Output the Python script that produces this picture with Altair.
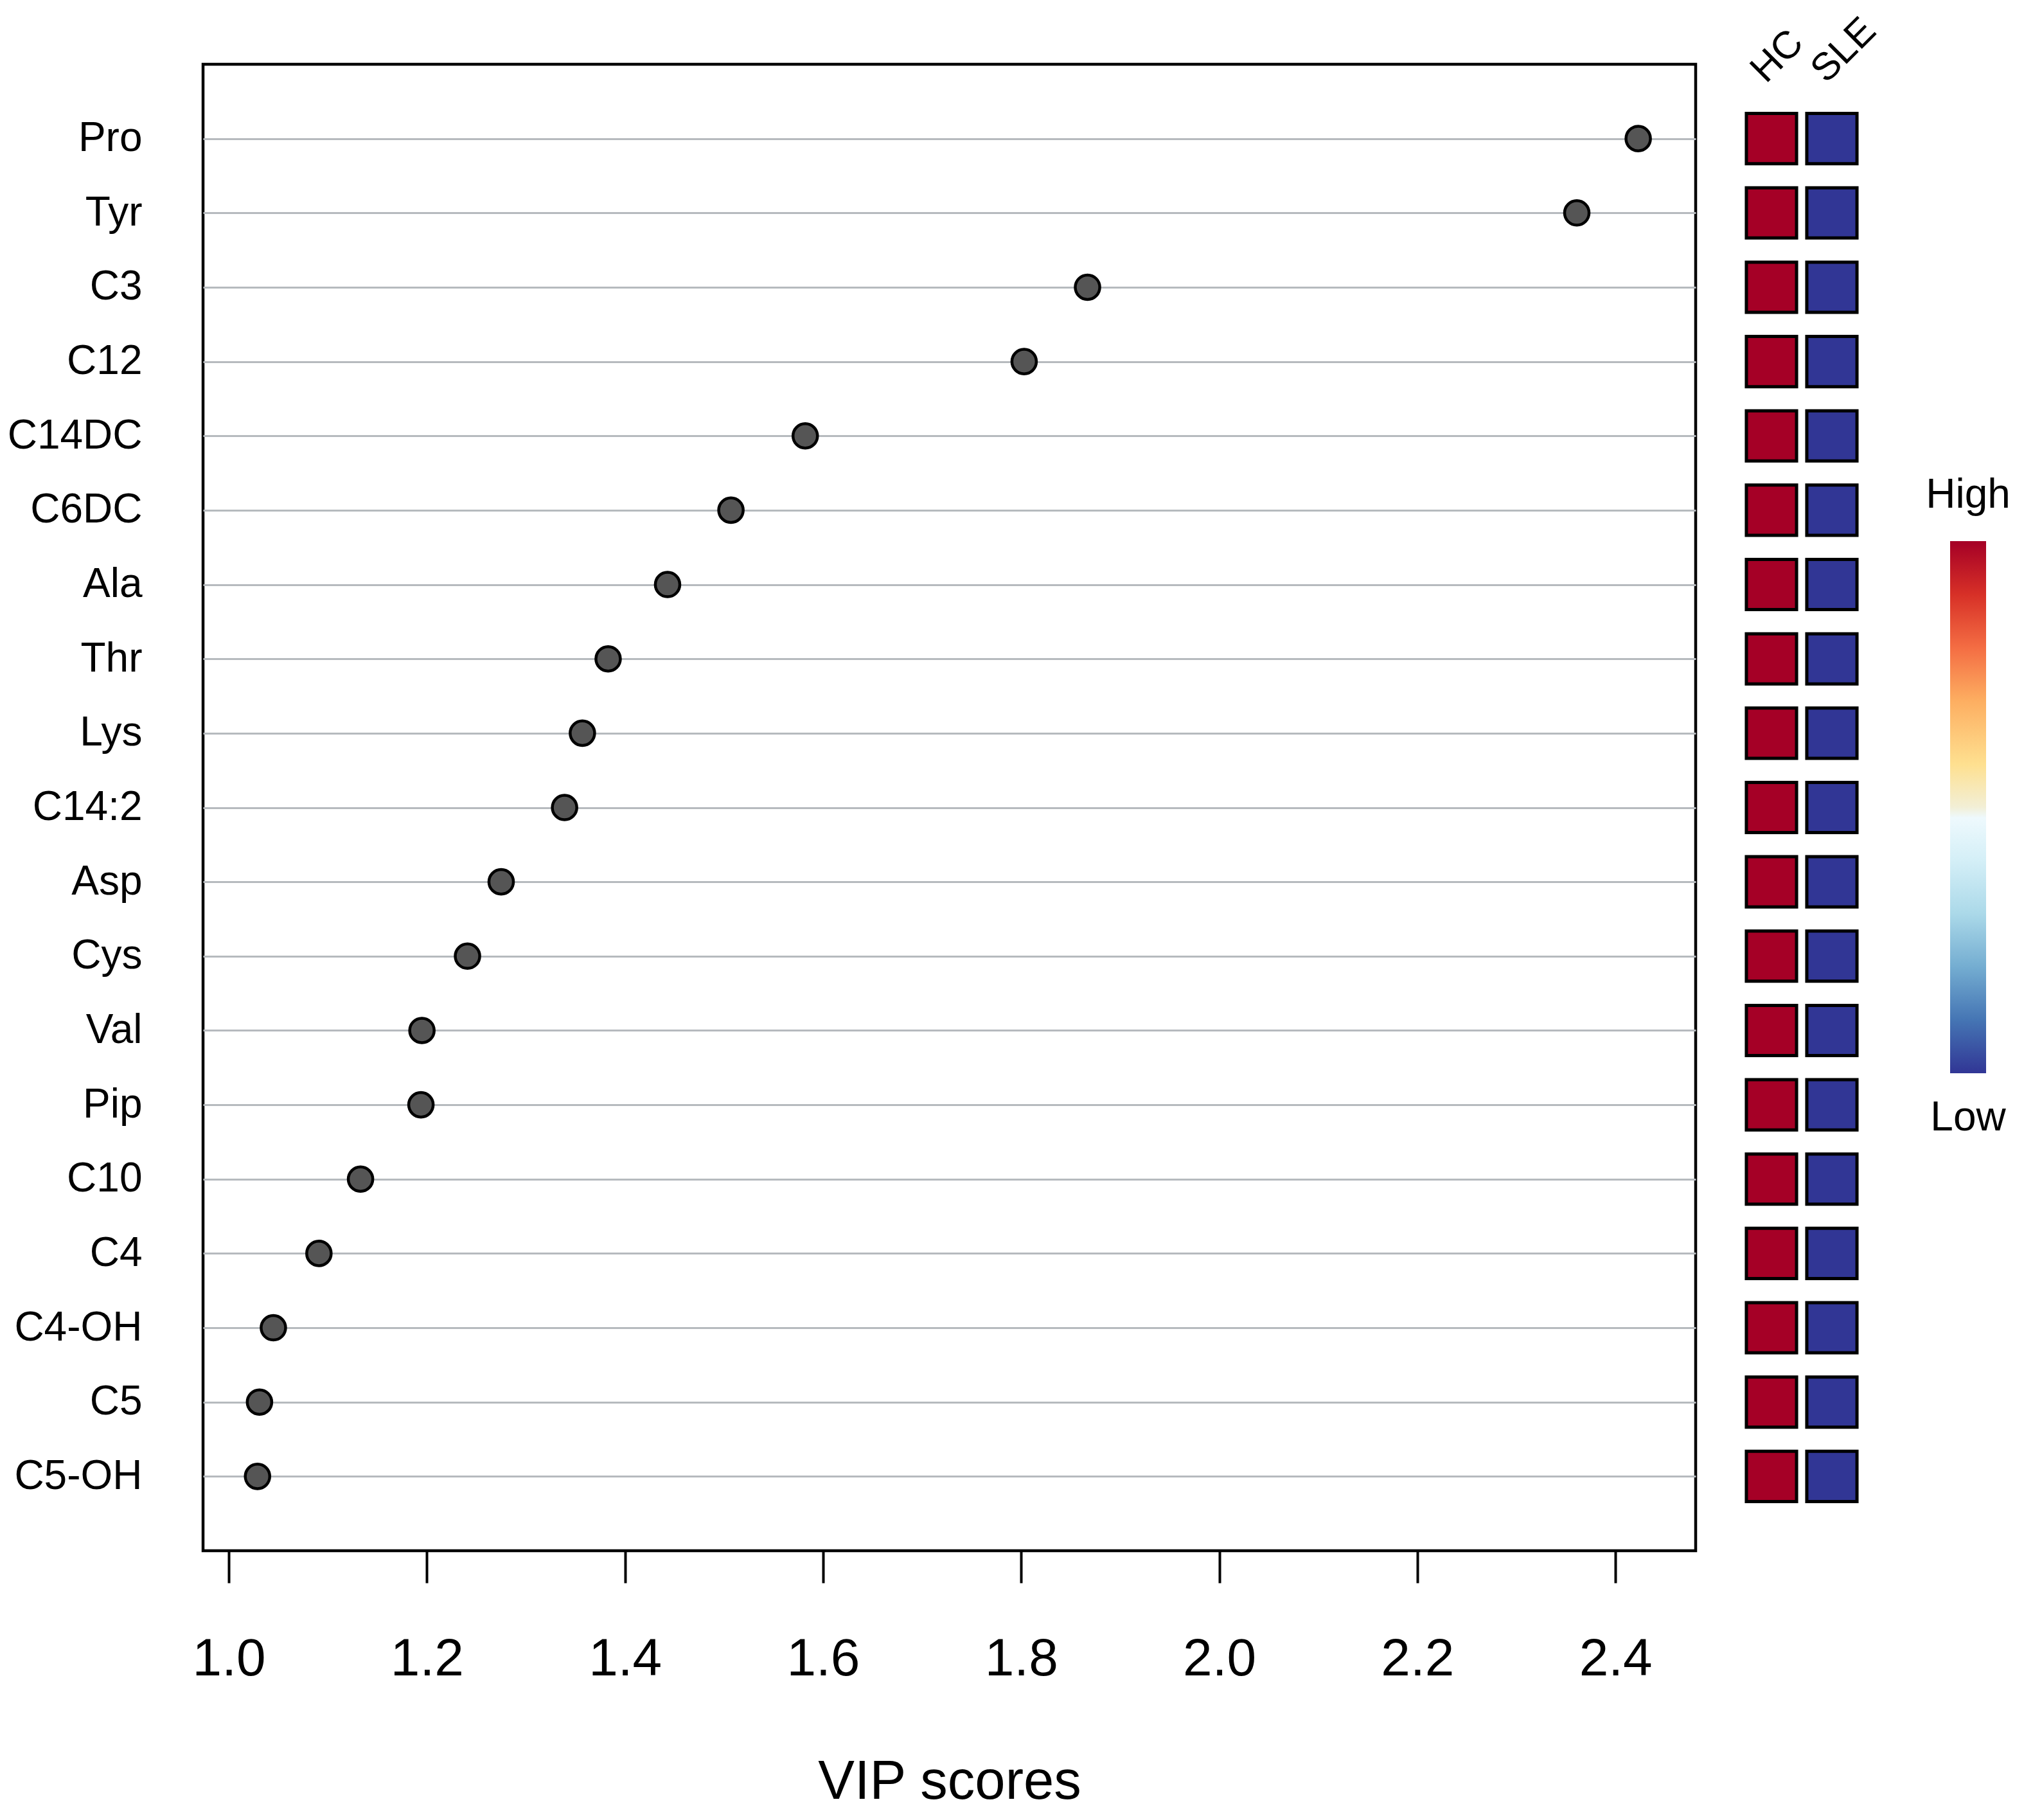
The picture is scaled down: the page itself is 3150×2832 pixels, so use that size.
import altair as alt
import pandas as pd

# ---- data ----
names = ["Pro", "Tyr", "C3", "C12", "C14DC", "C6DC", "Ala", "Thr", "Lys", "C14:2",
         "Asp", "Cys", "Val", "Pip", "C10", "C4", "C4-OH", "C5", "C5-OH"]
vip = [2.423, 2.361, 1.867, 1.803, 1.582, 1.507, 1.443, 1.383, 1.357, 1.339,
       1.275, 1.241, 1.195, 1.194, 1.133, 1.091, 1.045, 1.031, 1.029]
groups = ["HC", "SLE"]
hc_level = ["High", "High", "High", "High", "High", "High", "High", "High", "High", "High",
            "High", "High", "High", "High", "High", "High", "High", "High", "High"]
sle_level = ["Low", "Low", "Low", "Low", "Low", "Low", "Low", "Low", "Low", "Low",
             "Low", "Low", "Low", "Low", "Low", "Low", "Low", "Low", "Low"]
x_ticks = [1.0, 1.2, 1.4, 1.6, 1.8, 2.0, 2.2, 2.4]

FONT = "Liberation Sans"

df = pd.DataFrame({"name": names, "vip": vip})
hdf = pd.DataFrame({
    "name": names + names,
    "group": ["HC"] * len(names) + ["SLE"] * len(names),
    "level": hc_level + sle_level,
})

PLOT_H = 2313

main = alt.Chart(df).mark_circle(
    size=1450, fill="#555555", stroke="black", strokeWidth=4.5, fillOpacity=1, strokeOpacity=1
).encode(
    x=alt.X("vip:Q",
            scale=alt.Scale(domain=[0.974, 2.481], nice=False, zero=False),
            axis=alt.Axis(values=x_ticks, format=".1f", title="VIP scores", grid=False,
                          domain=False, tickSize=50, tickWidth=4, tickColor="black",
                          labelFontSize=82, labelPadding=78, labelColor="black",
                          labelFont=FONT, titleFont=FONT, titleFontSize=85,
                          titleFontWeight="normal", titleColor="black", titlePadding=118)),
    y=alt.Y("name:N", sort=names,
            scale=alt.Scale(type="point", padding=1),
            axis=alt.Axis(title=None, grid=True, gridColor="#b6babe", gridWidth=3,
                          ticks=False, domain=False, labelFontSize=64, labelPadding=95,
                          labelLimit=0, labelColor="black", labelFont=FONT)),
).properties(width=2323, height=PLOT_H,
             view=alt.ViewBackground(stroke="black", strokeWidth=4.5))

heat = alt.Chart(hdf).mark_square(
    size=6100, stroke="black", strokeWidth=5, opacity=1
).encode(
    x=alt.X("group:N", sort=groups, scale=alt.Scale(type="point", padding=0.5),
            axis=alt.Axis(orient="top", labelAngle=315, title=None, ticks=False,
                          domain=False, labelFontSize=60, labelPadding=-40, labelLimit=0,
                          labelColor="black", labelFont=FONT)),
    y=alt.Y("name:N", sort=names, scale=alt.Scale(type="point", padding=1), axis=None),
    color=alt.Color("level:N", scale=alt.Scale(domain=["High", "Low"],
                                               range=["#A50026", "#313695"]), legend=None),
).properties(width=188, height=PLOT_H, view=alt.ViewBackground(stroke="transparent"))

grad = alt.Gradient(
    gradient="linear", x1=0, x2=0, y1=0, y2=1,
    stops=[
        alt.GradientStop(offset=0.0, color="#a50026"),
        alt.GradientStop(offset=0.1, color="#d73027"),
        alt.GradientStop(offset=0.2, color="#f46d43"),
        alt.GradientStop(offset=0.3, color="#fdae61"),
        alt.GradientStop(offset=0.42, color="#fee090"),
        alt.GradientStop(offset=0.5, color="#f2efd6"),
        alt.GradientStop(offset=0.52, color="#eef9fd"),
        alt.GradientStop(offset=0.6, color="#d4eff7"),
        alt.GradientStop(offset=0.7, color="#abd9e9"),
        alt.GradientStop(offset=0.8, color="#74add1"),
        alt.GradientStop(offset=0.9, color="#4575b4"),
        alt.GradientStop(offset=1.0, color="#313695"),
    ])

one = pd.DataFrame({"k": [0]})
bar = alt.Chart(one).mark_rect(fill=grad).encode(
    x=alt.value(66), x2=alt.value(122), y=alt.value(742), y2=alt.value(1570))
hi = alt.Chart(one).mark_text(text="High", fontSize=64, font=FONT, color="black",
                              align="center", baseline="middle").encode(
    x=alt.value(94), y=alt.value(671))
lo = alt.Chart(one).mark_text(text="Low", fontSize=64, font=FONT, color="black",
                              align="center", baseline="middle").encode(
    x=alt.value(94), y=alt.value(1640))
cbar = alt.layer(bar, hi, lo).properties(width=160, height=PLOT_H,
                                         view=alt.ViewBackground(stroke="transparent"))

chart = alt.hconcat(main, heat, cbar, spacing=71, bounds="flush").properties(
    padding={"left": 0, "top": 8, "right": 0, "bottom": 0}, background="white"
)

chart.save("out.html", embed_options={"renderer": "svg", "actions": False})
